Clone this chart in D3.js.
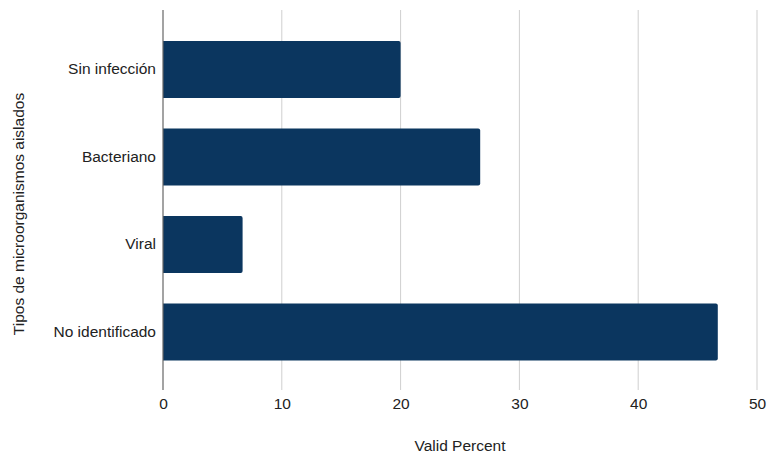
<!DOCTYPE html>
<html>
<head>
<meta charset="utf-8">
<script src="https://cdn.jsdelivr.net/npm/d3@7/dist/d3.min.js"></script>
<style>
  html, body { margin: 0; padding: 0; background: #fff; }
  svg { display: block; font-family: "Liberation Sans", Arial, Helvetica, sans-serif; }
</style>
</head>
<body>
<svg id="chart" width="767" height="455"></svg>
<script>
// Categories and their valid percentages
const categories = ["Sin infección", "Bacteriano", "Viral", "No identificado"];
const values = [20.0, 26.7, 6.7, 46.7];
const xTicks = [0, 10, 20, 30, 40, 50];

const svg = d3.select("#chart");
const fontSize = 15.5;
const plotTop = 10, plotBottom = 390;
const x = d3.scaleLinear().domain([0, 50]).range([163, 757]);
const y = d3.scaleBand().domain(categories).range([25.75, 375.75]).paddingInner(0.35).paddingOuter(0.175);

// Vertical gridlines
svg.append("g").selectAll("line").data(xTicks.filter(d => d !== 0)).join("line")
  .attr("x1", d => x(d)).attr("x2", d => x(d))
  .attr("y1", plotTop).attr("y2", plotBottom)
  .attr("stroke", "#cfcfcf").attr("stroke-width", 1);

// Bars with slightly rounded ends
const barColor = "#0b365f";
svg.append("g").selectAll("path").data(categories).join("path")
  .attr("d", (c, i) => {
    const x0 = x(0), x1 = x(values[i]), y0 = y(c), h = y.bandwidth(), r = 2;
    return `M${x0},${y0}H${x1 - r}Q${x1},${y0} ${x1},${y0 + r}V${y0 + h - r}Q${x1},${y0 + h} ${x1 - r},${y0 + h}H${x0}Z`;
  })
  .attr("fill", barColor);

// Zero axis line
svg.append("line")
  .attr("x1", x(0)).attr("x2", x(0))
  .attr("y1", plotTop).attr("y2", plotBottom)
  .attr("stroke", "#666").attr("stroke-width", 1.2);

// X tick labels
const xAxis = d3.axisBottom(x).tickValues(xTicks).tickSize(0).tickPadding(8);
const gx = svg.append("g").attr("transform", `translate(0,${plotBottom})`).call(xAxis);
gx.select(".domain").remove();
gx.selectAll("text").attr("font-size", fontSize).attr("fill", "#222")
  .attr("font-family", "Liberation Sans, Arial, sans-serif");

// Category labels
const yAxis = d3.axisLeft(y).tickSize(0).tickPadding(7);
const gy = svg.append("g").attr("transform", `translate(${x(0)},0)`).call(yAxis);
gy.select(".domain").remove();
gy.selectAll("text").attr("font-size", fontSize).attr("fill", "#222")
  .attr("font-family", "Liberation Sans, Arial, sans-serif");

// Axis titles
svg.append("text")
  .attr("x", 460).attr("y", 451)
  .attr("text-anchor", "middle").attr("font-size", fontSize).attr("fill", "#222")
  .text("Valid Percent");

svg.append("text")
  .attr("transform", "translate(24,214) rotate(-90)")
  .attr("text-anchor", "middle").attr("font-size", fontSize).attr("fill", "#222")
  .text("Tipos de microorganismos aislados");
</script>
</body>
</html>
